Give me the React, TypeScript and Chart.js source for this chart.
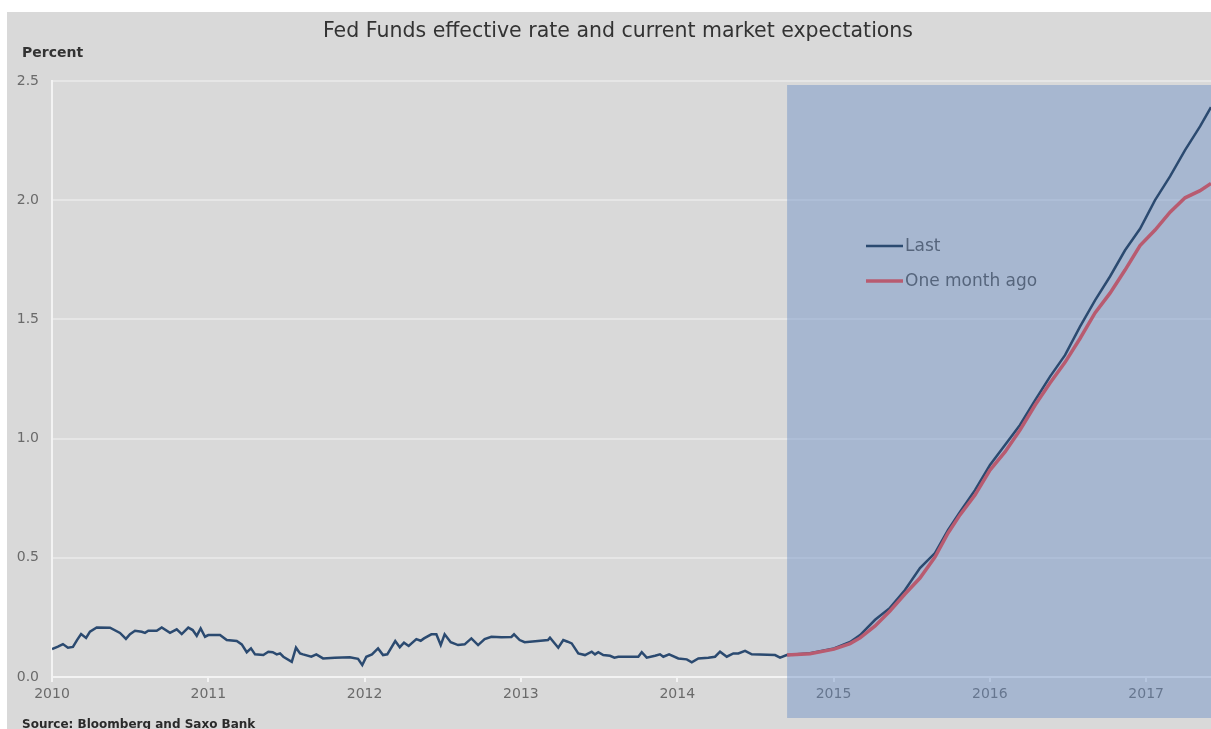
import React, { useEffect, useRef } from "react";
import { Chart, registerables } from "chart.js";

Chart.register(...registerables);

// ---- Data ----
const titleText = "Fed Funds effective rate and current market expectations";
const yAxisLabel = "Percent";
const sourceText = "Source: Bloomberg and Saxo Bank";
const seriesNames = ["Last", "One month ago"];
const xTickYears = [2010, 2011, 2012, 2013, 2014, 2015, 2016, 2017];

// Historical effective Fed Funds rate (decimal years, percent)
const histYears = [
  2010.0, 2010.038, 2010.07, 2010.102, 2010.134, 2010.16, 2010.186, 2010.218, 2010.243, 2010.286,
  2010.371, 2010.435, 2010.473, 2010.499, 2010.531, 2010.574, 2010.595, 2010.616, 2010.67, 2010.702,
  2010.755, 2010.798, 2010.83, 2010.872, 2010.9, 2010.926, 2010.951, 2010.979, 2011.0, 2011.075,
  2011.118, 2011.182, 2011.214, 2011.246, 2011.273, 2011.299, 2011.352, 2011.384, 2011.412, 2011.438,
  2011.459, 2011.48, 2011.534, 2011.561, 2011.587, 2011.606, 2011.659, 2011.691, 2011.734, 2011.809,
  2011.905, 2011.958, 2011.985, 2012.011, 2012.047, 2012.086, 2012.118, 2012.145, 2012.196, 2012.225,
  2012.252, 2012.282, 2012.331, 2012.359, 2012.38, 2012.427, 2012.459, 2012.487, 2012.512, 2012.551,
  2012.598, 2012.64, 2012.683, 2012.726, 2012.768, 2012.811, 2012.875, 2012.939, 2012.956, 2012.992,
  2013.024, 2013.109, 2013.173, 2013.186, 2013.239, 2013.271, 2013.299, 2013.325, 2013.367, 2013.41,
  2013.453, 2013.474, 2013.495, 2013.527, 2013.57, 2013.598, 2013.623, 2013.751, 2013.773, 2013.805,
  2013.858, 2013.89, 2013.911, 2013.948, 2014.007, 2014.061, 2014.093, 2014.135, 2014.199, 2014.242,
  2014.274, 2014.317, 2014.359, 2014.391, 2014.434, 2014.477, 2014.626, 2014.658, 2014.7,
];
const histRates = [
  0.117, 0.127, 0.138, 0.123, 0.126, 0.155, 0.18, 0.164, 0.19, 0.208,
  0.207, 0.185, 0.16, 0.18, 0.194, 0.19, 0.185, 0.194, 0.194, 0.208,
  0.185, 0.2, 0.18, 0.207, 0.197, 0.173, 0.204, 0.169, 0.176, 0.176,
  0.155, 0.151, 0.137, 0.104, 0.12, 0.095, 0.092, 0.106, 0.104, 0.095,
  0.099, 0.085, 0.064, 0.123, 0.099, 0.095, 0.085, 0.095, 0.078, 0.081,
  0.083, 0.076, 0.05, 0.085, 0.095, 0.12, 0.092, 0.095, 0.151, 0.125,
  0.144, 0.13, 0.159, 0.152, 0.162, 0.179, 0.179, 0.134, 0.179, 0.146,
  0.134, 0.137, 0.162, 0.134, 0.159, 0.169, 0.167, 0.168, 0.179, 0.155,
  0.146, 0.151, 0.155, 0.165, 0.123, 0.155, 0.148, 0.141, 0.099, 0.092,
  0.106, 0.095, 0.104, 0.092, 0.089, 0.081, 0.085, 0.085, 0.104, 0.081,
  0.089, 0.095, 0.085, 0.095, 0.078, 0.074, 0.062, 0.078, 0.081, 0.085,
  0.106, 0.085, 0.099, 0.099, 0.11, 0.095, 0.092, 0.081, 0.092,
];

// Market-implied forward path
const forecastYears = [
  2014.703, 2014.85, 2015.003, 2015.106, 2015.17, 2015.266, 2015.361, 2015.457, 2015.553, 2015.649,
  2015.733, 2015.809, 2015.905, 2016.001, 2016.097, 2016.193, 2016.289, 2016.385, 2016.481, 2016.577,
  2016.673, 2016.769, 2016.865, 2016.961, 2017.057, 2017.153, 2017.249, 2017.345, 2017.415,
];
const lastForecast = [
  0.092, 0.1, 0.12, 0.147, 0.176, 0.24, 0.29, 0.365, 0.457, 0.52,
  0.617, 0.692, 0.784, 0.889, 0.973, 1.057, 1.16, 1.26, 1.35, 1.47,
  1.58, 1.68, 1.79, 1.88, 2.0, 2.1, 2.21, 2.31, 2.39,
];
const monthAgoForecast = [
  0.092, 0.098, 0.117, 0.14, 0.164, 0.214, 0.277, 0.348, 0.415, 0.503,
  0.604, 0.68, 0.763, 0.868, 0.944, 1.036, 1.14, 1.233, 1.32, 1.42,
  1.527, 1.61, 1.707, 1.81, 1.875, 1.95, 2.01, 2.04, 2.07,
];

const xMin = 2010;
const xMax = 2017.415;
const forecastStart = 2014.703;
const yMin = 0;
const yMax = 2.5;
const yStep = 0.5;

// ---- Styles ----
const BG = "#d9d9d9";
const BLUE = "#2b4a70";
const RED = "#b85b70";
const GRID = "#e6e6e6";
const AXIS = "#f3f3f3";
const TICK_COLOR = "#6a6a6a";
const FONT = "'DejaVu Sans', Verdana, sans-serif";

export default function App() {
  const canvasRef = useRef<HTMLCanvasElement | null>(null);

  useEffect(() => {
    const canvas = canvasRef.current;
    if (!canvas) return;

    const lastData = [
      ...histYears.map((x, i) => ({ x, y: histRates[i] })),
      ...forecastYears.map((x, i) => ({ x, y: lastForecast[i] })),
    ];
    const monthAgoData = forecastYears.map((x, i) => ({ x, y: monthAgoForecast[i] }));

    const shadePlugin = {
      id: "shade",
      beforeDatasetsDraw(chart: any) {
        const { ctx, chartArea, scales } = chart;
        const x0 = scales.x.getPixelForValue(forecastStart);
        ctx.save();
        ctx.fillStyle = "rgba(97,137,195,0.42)";
        ctx.fillRect(x0, chartArea.top + 4, chart.width - x0, chartArea.bottom + 41 - (chartArea.top + 4));
        ctx.restore();
      },
    };

    const textPlugin = {
      id: "texts",
      afterDraw(chart: any) {
        const { ctx } = chart;
        ctx.save();
        // title
        ctx.fillStyle = "#333333";
        ctx.font = `20.5px ${FONT}`;
        ctx.textAlign = "center";
        ctx.textBaseline = "middle";
        ctx.fillText(titleText, 611, 20);
        // y label
        ctx.fillStyle = "#333333";
        ctx.font = `bold 14px ${FONT}`;
        ctx.textAlign = "left";
        ctx.fillText(yAxisLabel, 15, 41);
        // source
        ctx.font = `bold 12px ${FONT}`;
        ctx.fillStyle = "#2a2a2a";
        ctx.textBaseline = "alphabetic";
        ctx.fillText(sourceText, 15, 716);
        // legend
        const lx = 859;
        const rows = [
          { y: 234, color: BLUE, w: 2.5, label: seriesNames[0] },
          { y: 269, color: RED, w: 3.5, label: seriesNames[1] },
        ];
        ctx.font = `17px ${FONT}`;
        ctx.textBaseline = "middle";
        for (const r of rows) {
          ctx.strokeStyle = r.color;
          ctx.lineWidth = r.w;
          ctx.beginPath();
          ctx.moveTo(lx, r.y);
          ctx.lineTo(lx + 37, r.y);
          ctx.stroke();
          ctx.fillStyle = "#56657c";
          ctx.fillText(r.label, lx + 39, r.y + 1);
        }
        ctx.restore();
      },
    };

    const chart = new Chart(canvas, {
      type: "line",
      data: {
        datasets: [
          {
            label: seriesNames[1],
            data: monthAgoData,
            borderColor: RED,
            borderWidth: 3.5,
            pointRadius: 0,
            tension: 0,
            fill: false,
          },
          {
            label: seriesNames[0],
            data: lastData,
            borderColor: BLUE,
            borderWidth: 2.5,
            pointRadius: 0,
            tension: 0,
            fill: false,
          },
        ],
      },
      options: {
        animation: false,
        responsive: false,
        devicePixelRatio: 1,
        layout: { padding: { top: 69, left: 0, right: 0, bottom: 0 } },
        plugins: {
          legend: { display: false },
          title: { display: false },
          tooltip: { enabled: false },
        },
        scales: {
          x: {
            type: "linear",
            min: xMin,
            max: xMax,
            afterBuildTicks: (scale: any) => {
              scale.ticks = xTickYears.map((v) => ({ value: v }));
            },
            afterFit: (scale: any) => {
              scale.height = 52;
            },
            ticks: {
              stepSize: 1,
              autoSkip: false,
              maxRotation: 0,
              padding: 4,
              color: TICK_COLOR,
              font: { family: FONT, size: 14 },
              callback: (v: any) => String(v),
            },
            grid: {
              drawOnChartArea: false,
              drawTicks: true,
              tickLength: 5,
              color: AXIS,
              lineWidth: 2,
            },
            border: { display: true, color: AXIS, width: 2 },
          },
          y: {
            type: "linear",
            min: yMin,
            max: yMax,
            afterFit: (scale: any) => {
              scale.width = 45;
            },
            ticks: {
              stepSize: yStep,
              padding: 13,
              color: TICK_COLOR,
              font: { family: FONT, size: 14 },
              callback: (v: any) => Number(v).toFixed(1),
            },
            grid: {
              color: GRID,
              lineWidth: 2,
              drawTicks: false,
            },
            border: { display: true, color: AXIS, width: 2 },
          },
        },
      },
      plugins: [shadePlugin, textPlugin],
    });

    return () => chart.destroy();
  }, []);

  return (
    <div
      style={{
        position: "absolute",
        left: 7,
        top: 12,
        width: 1204,
        height: 717,
        background: BG,
        overflow: "hidden",
      }}
    >
      <canvas ref={canvasRef} width={1204} height={717} style={{ width: 1204, height: 717, display: "block" }} />
    </div>
  );
}
